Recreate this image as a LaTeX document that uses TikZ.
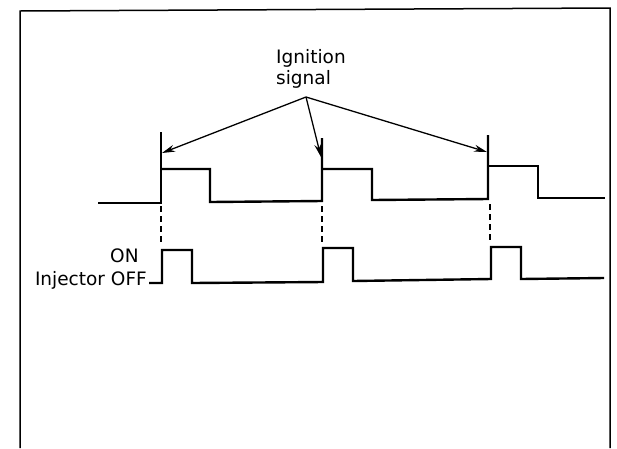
\documentclass[tikz,border=0pt]{standalone}
\usepackage{fontspec}
\setmainfont{DejaVu Sans}
\usetikzlibrary{arrows.meta}
\begin{document}
\begin{tikzpicture}[x=1pt,y=-1pt,
  frameline/.style={line width=1.5pt},
  trace/.style={line width=2.4pt,line join=miter},
  guide/.style={line width=1.2pt,dash pattern=on 6pt off 4pt},
  pointer/.style={line width=1.3pt,-{Stealth[length=13pt,width=7pt]}},
  lbl/.style={font=\fontsize{18.5}{21}\selectfont,inner sep=0pt}]
\useasboundingbox (0,0) rectangle (617,448);
% frame
\draw[frameline] (20,448) -- (20,11) -- (610,8) -- (610,448);
% labels
\node[lbl,anchor=base west] (ign) at (276,63) {Ignition};
\node[lbl,anchor=base west] (sig) at (276,84) {signal};
\node[lbl,anchor=base west] (on) at (110,262) {ON};
\node[lbl,anchor=base east] (off) at (147,285) {Injector OFF};
% ignition trace
\draw[trace] (98,203) -- (161,203) -- (161,132);
\draw[trace] (161,169) -- (210,169) -- (210,202) -- (322,201) -- (322,138);
\draw[trace] (322,169) -- (372,169) -- (372,200) -- (488,199) -- (488,135);
\draw[trace] (488,166) -- (538,166) -- (538,198) -- (605,198);
% injector trace
\coordinate (inj0) at (149,283);
\draw[trace] (inj0) -- (162,283) -- (162,250) -- (192,250) -- (192,283) -- (323,282)
  -- (323,248) -- (353,248) -- (353,281) -- (491,279) -- (491,247) -- (521,247)
  -- (521,279) -- (604,278);
% dashed guides
\draw[guide] (161,206) -- (161,244);
\draw[guide] (322,206) -- (322,244);
\draw[guide] (490,204) -- (490,242);
% arrows
\coordinate (src) at (306,97);
\coordinate (t1) at (162,153);
\coordinate (t2) at (321,157);
\coordinate (t3) at (487,152);
\draw[pointer] (src) -- (t1);
\draw[pointer] (src) -- (t2);
\draw[pointer] (src) -- (t3);
\end{tikzpicture}
\end{document}
